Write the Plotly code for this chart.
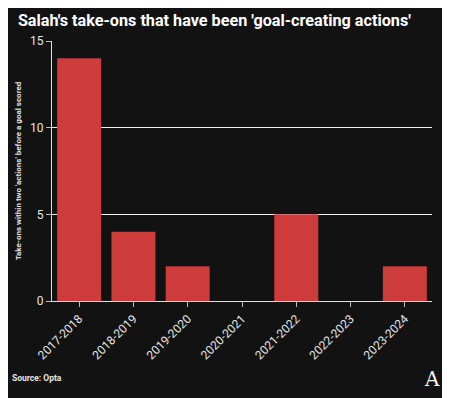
import plotly.graph_objects as go

seasons = ["2017-2018", "2018-2019", "2019-2020", "2020-2021", "2021-2022", "2022-2023", "2023-2024"]
take_ons = [14, 4, 2, 0, 5, 0, 2]
y_ticks = [0, 5, 10, 15]

BG = "#121212"
BAR = "#cd3b3b"
TXT = "#e6e6e6"

fig = go.Figure(go.Bar(x=seasons, y=take_ons, marker=dict(color=BAR, line=dict(width=0)), hoverinfo="x+y"))

fig.update_layout(
    width=450, height=398,
    paper_bgcolor=BG, plot_bgcolor=BG,
    margin=dict(l=44, r=26, t=33, b=105),
    bargap=0.19,
    showlegend=False,
    title=dict(text="<b>Salah's take-ons that have been 'goal-creating actions'</b>",
               x=0.022, xanchor="left", y=0.97, yanchor="middle",
               font=dict(family="Roboto", size=16.2, color="#ffffff")),
    font=dict(family="Roboto", color=TXT),
)
fig.update_xaxes(
    automargin=False,
    showline=True, linecolor="#e0e0e0", linewidth=1,
    ticks="outside", ticklen=5, tickcolor="#bbbbbb",
    tickangle=-45, tickfont=dict(size=12, color=TXT), showgrid=False,
)
fig.update_yaxes(
    automargin=False,
    range=[0, 15], tickvals=y_ticks, showline=True, linecolor="#e0e0e0", linewidth=1,
    ticks="outside", ticklen=5, tickcolor="#bbbbbb",
    showgrid=True, gridcolor="#f0f0f0", gridwidth=1, zeroline=False,
    tickfont=dict(size=12, color=TXT),
    title=dict(text="<b>Take-ons within two 'actions' before a goal scored</b>",
               font=dict(size=8, color=TXT), standoff=7),
)
fig.add_annotation(text="<b>Source: Opta</b>", xref="paper", yref="paper", x=-0.111, y=-0.296,
                   xanchor="left", yanchor="middle", showarrow=False,
                   font=dict(family="Roboto", size=8.5, color=TXT))
fig.add_annotation(text="A", xref="paper", yref="paper", x=1.0, y=-0.3,
                   xanchor="center", yanchor="middle", showarrow=False,
                   font=dict(family="DejaVu Serif", size=20, color="#ffffff"))
fig.write_html("out.html")
